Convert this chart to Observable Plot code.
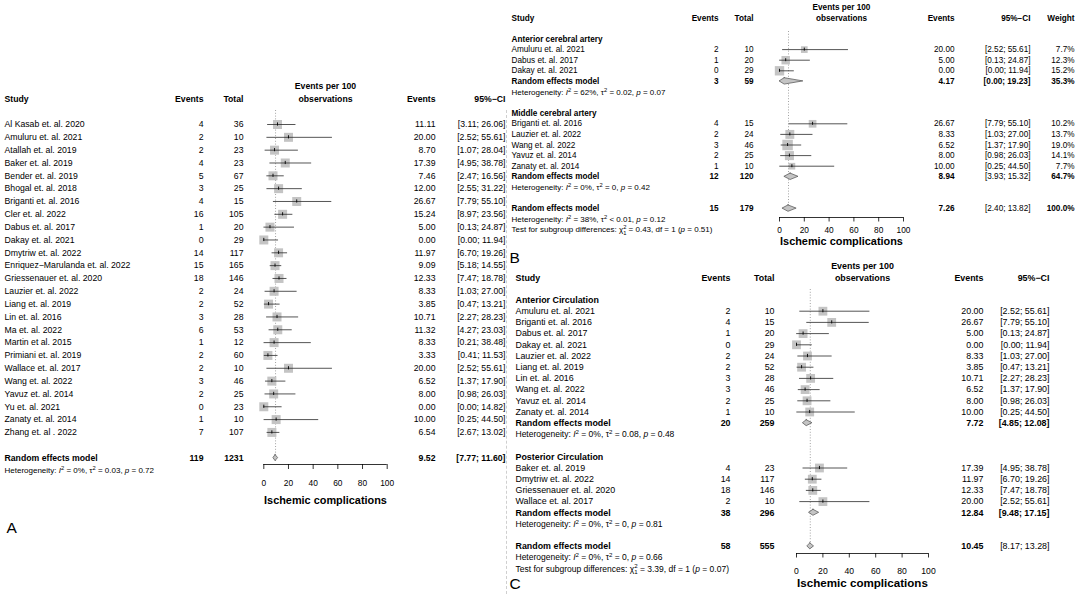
<!DOCTYPE html>
<html><head><meta charset="utf-8">
<script src="https://cdn.jsdelivr.net/npm/d3@7"></script>
<script src="https://cdn.jsdelivr.net/npm/@observablehq/plot@0.6"></script>
<style>
html,body{margin:0;padding:0;background:#fff;}
#wrap{position:relative;width:1080px;height:594px;overflow:hidden;background:#fff;}
#wrap svg{position:absolute;left:0;top:0;}
#sep{position:absolute;left:506px;top:110px;width:0;height:484px;border-left:1px dashed #cfcfcf;}
</style></head><body><div id="wrap"><div id="sep"></div></div>
<script>
// ---------------- DATA ----------------
const ticks = [0, 20, 40, 60, 80, 100];
const axisTitle = "Ischemic complications";
const forestHeader = ["Events per 100", "observations"];
const reLabel = "Random effects model";
const panelLabels = ["A", "B", "C"];

// Panel A
const headersA = ["Study", "Events", "Total", "Events", "95%−CI"];
const studiesA = ["Al Kasab et. al. 2020","Amuluru et. al. 2021","Atallah et. al. 2019","Baker et. al. 2019","Bender et. al. 2019","Bhogal et. al. 2018","Briganti et. al. 2016","Cler et. al. 2022","Dabus et. al. 2017","Dakay et. al. 2021","Dmytriw et. al. 2022","Enriquez−Marulanda et. al. 2022","Griessenauer et. al. 2020","Lauzier et. al. 2022","Liang et. al. 2019","Lin et. al. 2016","Ma et. al. 2022","Martin et al. 2015","Primiani et. al. 2019","Wallace et. al. 2017","Wang et. al. 2022","Yavuz et. al. 2014","Yu et. al. 2021","Zanaty et. al. 2014","Zhang et. al . 2022"];
const eventsA = [4,2,2,4,5,3,4,16,1,0,14,15,18,2,2,3,6,1,2,2,3,2,0,1,7];
const totalA = [36,10,23,23,67,25,15,105,20,29,117,165,146,24,52,28,53,12,60,10,46,25,23,10,107];
const estA = [11.11,20.00,8.70,17.39,7.46,12.00,26.67,15.24,5.00,0.00,11.97,9.09,12.33,8.33,3.85,10.71,11.32,8.33,3.33,20.00,6.52,8.00,0.00,10.00,6.54];
const lowA = [3.11,2.52,1.07,4.95,2.47,2.55,7.79,8.97,0.13,0.00,6.70,5.18,7.47,1.03,0.47,2.27,4.27,0.21,0.41,2.52,1.37,0.98,0.00,0.25,2.67];
const highA = [26.06,55.61,28.04,38.78,16.56,31.22,55.10,23.56,24.87,11.94,19.26,14.55,18.78,27.00,13.21,28.23,23.03,38.48,11.53,55.61,17.90,26.03,14.82,44.50,13.02];
const overallA = [119, 1231, 9.52, 7.77, 11.60]; // events, total, est, low, high
const hetA = "Heterogeneity: I² = 0%, τ² = 0.03, p = 0.72";

// Panel B
const headersB = ["Study", "Events", "Total", "Events", "95%−CI", "Weight"];
const subgroupsB = ["Anterior cerebral artery", "Middle cerebral artery"];
const groupB = [0,0,0,1,1,1,1,1];
const studiesB = ["Amuluru et. al. 2021","Dabus et. al. 2017","Dakay et. al. 2021","Briganti et. al. 2016","Lauzier et. al. 2022","Wang et. al. 2022","Yavuz et. al. 2014","Zanaty et. al. 2014"];
const eventsB = [2,1,0,4,2,3,2,1];
const totalB = [10,20,29,15,24,46,25,10];
const estB = [20.00,5.00,0.00,26.67,8.33,6.52,8.00,10.00];
const lowB = [2.52,0.13,0.00,7.79,1.03,1.37,0.98,0.25];
const highB = [55.61,24.87,11.94,55.10,27.00,17.90,26.03,44.50];
const weightB = [7.7,12.3,15.2,10.2,13.7,19.0,14.1,7.7];
const subEventsB = [3, 12];
const subTotalB = [59, 120];
const subEstB = [4.17, 8.94];
const subLowB = [0.00, 3.93];
const subHighB = [19.23, 15.32];
const subWeightB = [35.3, 64.7];
const subHetB = ["Heterogeneity: I² = 62%, τ² = 0.02, p = 0.07", "Heterogeneity: I² = 0%, τ² = 0, p = 0.42"];
const overallB = [15, 179, 7.26, 2.40, 13.82, 100.0];
const hetB = "Heterogeneity: I² = 38%, τ² < 0.01, p = 0.12";
const testB = "Test for subgroup differences: χ²₁ = 0.43, df = 1 (p = 0.51)";

// Panel C
const headersC = ["Study", "Events", "Total", "Events", "95%−CI"];
const subgroupsC = ["Anterior Circulation", "Posterior Circulation"];
const groupC = [0,0,0,0,0,0,0,0,0,0,1,1,1,1];
const studiesC = ["Amuluru et. al. 2021","Briganti et. al. 2016","Dabus et. al. 2017","Dakay et. al. 2021","Lauzier et. al. 2022","Liang et. al. 2019","Lin et. al. 2016","Wang et. al. 2022","Yavuz et. al. 2014","Zanaty et. al. 2014","Baker et. al. 2019","Dmytriw et. al. 2022","Griessenauer et. al. 2020","Wallace et. al. 2017"];
const eventsC = [2,4,1,0,2,2,3,3,2,1,4,14,18,2];
const totalC = [10,15,20,29,24,52,28,46,25,10,23,117,146,10];
const estC = [20.00,26.67,5.00,0.00,8.33,3.85,10.71,6.52,8.00,10.00,17.39,11.97,12.33,20.00];
const lowC = [2.52,7.79,0.13,0.00,1.03,0.47,2.27,1.37,0.98,0.25,4.95,6.70,7.47,2.52];
const highC = [55.61,55.10,24.87,11.94,27.00,13.21,28.23,17.90,26.03,44.50,38.78,19.26,18.78,55.61];
const subEventsC = [20, 38];
const subTotalC = [259, 296];
const subEstC = [7.72, 12.84];
const subLowC = [4.85, 9.48];
const subHighC = [12.08, 17.15];
const subHetC = ["Heterogeneity: I² = 0%, τ² = 0.08, p = 0.48", "Heterogeneity: I² = 0%, τ² = 0, p = 0.81"];
const overallC = [58, 555, 10.45, 8.17, 13.28];
const hetC = "Heterogeneity: I² = 0%, τ² = 0, p = 0.66";
const testC = "Test for subgroup differences: χ²₁ = 3.39, df = 1 (p = 0.07)";

// ---------------- ROW BUILDERS ----------------
function summaryRow(row, v, w) {
  return {kind: "re", row, label: reLabel, events: v[0], total: v[1], est: v[2], low: v[3], high: v[4], weight: w};
}
function buildA() {
  const rows = studiesA.map((n, i) => ({kind: "study", row: i, label: n, events: eventsA[i], total: totalA[i], est: estA[i], low: lowA[i], high: highA[i]}));
  rows.push(summaryRow(studiesA.length + 1, overallA));
  rows.push({kind: "het", row: studiesA.length + 2, label: hetA});
  return rows;
}
function buildGrouped(S) {
  const rows = []; let r = 0;
  S.subgroups.forEach((name, g) => {
    rows.push({kind: "title", row: r++, label: name});
    S.studies.forEach((n, i) => {
      if (S.group[i] !== g) return;
      rows.push({kind: "study", row: r++, label: n, events: S.events[i], total: S.total[i], est: S.est[i], low: S.low[i], high: S.high[i], weight: S.weight ? S.weight[i] : null});
    });
    rows.push(summaryRow(r++, [S.subEvents[g], S.subTotal[g], S.subEst[g], S.subLow[g], S.subHigh[g]], S.subWeight ? S.subWeight[g] : null));
    rows.push({kind: "het", row: r++, label: S.subHet[g]});
    r++;
  });
  rows.push(summaryRow(r++, S.overall, S.overall[5]));
  rows.push({kind: "het", row: r++, label: S.het});
  rows.push({kind: "het", row: r++, label: S.test});
  return rows;
}

const rowsA = buildA();
const rowsB = buildGrouped({subgroups: subgroupsB, group: groupB, studies: studiesB, events: eventsB, total: totalB, est: estB, low: lowB, high: highB, weight: weightB,
  subEvents: subEventsB, subTotal: subTotalB, subEst: subEstB, subLow: subLowB, subHigh: subHighB, subWeight: subWeightB, subHet: subHetB, overall: overallB, het: hetB, test: testB});
const rowsC = buildGrouped({subgroups: subgroupsC, group: groupC, studies: studiesC, events: eventsC, total: totalC, est: estC, low: lowC, high: highC,
  subEvents: subEventsC, subTotal: subTotalC, subEst: subEstC, subLow: subLowC, subHigh: subHighC, subHet: subHetC, overall: overallC, het: hetC, test: testC});

// ---------------- LAYOUT (pixels) ----------------
const FONT = "'Liberation Sans', Arial, Helvetica, sans-serif";
const LA = {y0: 124, dy: 12.83, x0: 263.3, x100: 386.7, cols: [4, 203, 243, 435, 505],
  fs: 8.7, fsHet: 8.0, fsTick: 8.4, fsTitle: 10.9, sq: 9, hdr: [86, 99], refTop: 110, refBottom: 461,
  axisLine: 464, tickLen: 5, tickLabel: 483, axisTitle: 500, dh: 3, tk: 1.6, letter: [6, 528], boldCI: [true]};
const LB = {y0: 38.5, dy: 10.6, x0: 779, x100: 903, cols: [511, 718, 753, 954, 1030, 1074],
  fs: 8.2, fsHet: 8.0, fsTick: 8.3, fsTitle: 10.9, wMax: 19, rMax: 10.5 / Math.sqrt(Math.PI), hdr: [6.7, 17.6], refTop: 31, refBottom: 211,
  axisLine: 217, tickLen: 4.5, tickLabel: 230, axisTitle: 241, dh: 3.2, tk: 1.5, letter: [509, 258], boldCI: [true, false, false]};
const LC = {y0: 299.5, dy: 11.2, x0: 796, x100: 928, cols: [515, 730, 774, 983, 1049],
  fs: 8.9, fsHet: 8.5, fsTick: 8.6, fsTitle: 11.6, sq: 8.8, hdr: [266, 278], refTop: 289, refBottom: 549,
  axisLine: 553, tickLen: 4.5, tickLabel: 571, axisTitle: 583, dh: 3, tk: 1.6, letter: [509, 584], boldCI: [true, true, false]};

// ---------------- DRAW ----------------
function ciText(d) { return "[" + d.low.toFixed(2) + "; " + d.high.toFixed(2) + "]"; }

function drawPanel(rows, L, headers, label) {
  const r = p => (p - L.y0) / L.dy;
  const studies = rows.filter(d => d.kind === "study");
  const res = rows.filter(d => d.kind === "re");
  const titles = rows.filter(d => d.kind === "title");
  const notes = rows.filter(d => d.kind === "het");
  const overall = res[res.length - 1];
  const h = L.dh / L.dy, tk = L.tk / L.dy;
  const diamonds = res.flatMap((d, i) => [
    {id: i, y: d.row - h, x1: d.est, x2: d.est},
    {id: i, y: d.row, x1: d.low, x2: d.high},
    {id: i, y: d.row + h, x1: d.est, x2: d.est}
  ]);
  const mid = (ticks[0] + ticks[ticks.length - 1]) / 2;
  const t = {y: "row", frameAnchor: "left", fontSize: L.fs, fill: "#000"};
  const C = L.cols;
  const marks = [
    Plot.ruleX([overall], {x: "est", y1: () => r(L.refTop), y2: () => r(L.refBottom), stroke: "#8c8c8c", strokeWidth: 0.8, strokeDasharray: "1,1.8"}),
    Plot.dot(studies, {x: "est", y: "row", symbol: "square", r: L.wMax ? "weight" : L.sq / Math.sqrt(Math.PI), fill: "#c4c4c4", stroke: "none"}),
    Plot.ruleY(studies, {y: "row", x1: "low", x2: "high", stroke: "#2a2a2a", strokeWidth: 0.8}),
    Plot.ruleX(studies, {x: "est", y1: d => d.row - tk, y2: d => d.row + tk, stroke: "#000", strokeWidth: 0.9}),
    Plot.areaX(diamonds, {y: "y", x1: "x1", x2: "x2", z: "id", fill: "#c4c4c4", stroke: "#4d4d4d", strokeWidth: 0.7}),
    Plot.ruleY([ticks], {y: () => r(L.axisLine), x1: d => d[0], x2: d => d[d.length - 1], stroke: "#000", strokeWidth: 0.8}),
    Plot.ruleX(ticks, {x: d => d, y1: () => r(L.axisLine), y2: () => r(L.axisLine + L.tickLen), stroke: "#000", strokeWidth: 0.8}),
    Plot.text(ticks, {x: d => d, y: () => r(L.tickLabel), text: d => String(d), fontSize: L.fsTick, fill: "#000"}),
    Plot.text([axisTitle], {x: () => mid, y: () => r(L.axisTitle), text: d => d, fontSize: L.fsTitle, fontWeight: "bold", fill: "#000"}),
    Plot.text(forestHeader, {x: () => mid, y: (d, i) => r(L.hdr[i]), text: d => d, fontSize: L.fs, fontWeight: "bold", fill: "#000"}),
    Plot.text(studies, {...t, text: "label", dx: C[0], textAnchor: "start"}),
    Plot.text(titles.concat(res), {...t, text: "label", dx: C[0], textAnchor: "start", fontWeight: "bold"}),
    Plot.text(notes, {...t, fontSize: L.fsHet, text: "label", dx: C[0], textAnchor: "start"}),
    Plot.text(studies, {...t, dx: C[4], textAnchor: "end", text: ciText}),
    Plot.text(res.filter((d, i) => L.boldCI[i]), {...t, dx: C[4], textAnchor: "end", fontWeight: "bold", text: ciText}),
    Plot.text(res.filter((d, i) => !L.boldCI[i]), {...t, dx: C[4], textAnchor: "end", text: ciText}),
    Plot.text([label], {frameAnchor: "left", dx: L.letter[0], y: () => r(L.letter[1]), text: d => d, fontSize: 15.5, fill: "#000", textAnchor: "start"})
  ];
  headers.forEach((hd, i) => marks.push(Plot.text([hd], {frameAnchor: "left", y: () => r(L.hdr[1]), dx: C[i], textAnchor: i ? "end" : "start", text: d => d, fontSize: L.fs, fontWeight: "bold", fill: "#000"})));
  for (const [data, fw] of [[studies, "normal"], [res, "bold"]]) {
    marks.push(Plot.text(data, {...t, dx: C[1], textAnchor: "end", fontWeight: fw, text: d => String(d.events)}));
    marks.push(Plot.text(data, {...t, dx: C[2], textAnchor: "end", fontWeight: fw, text: d => String(d.total)}));
    marks.push(Plot.text(data, {...t, dx: C[3], textAnchor: "end", fontWeight: fw, text: d => d.est.toFixed(2)}));
    if (C[5]) marks.push(Plot.text(data, {...t, dx: C[5], textAnchor: "end", fontWeight: fw, text: d => d.weight.toFixed(1) + "%"}));
  }
  const opts = {
    width: 1080, height: 594, margin: 0,
    x: {domain: [ticks[0], ticks[ticks.length - 1]], range: [L.x0, L.x100], axis: null},
    y: {domain: [0, 1], range: [L.y0, L.y0 + L.dy], axis: null},
    style: {fontFamily: FONT, background: "transparent", overflow: "visible"},
    marks
  };
  if (L.wMax) opts.r = {type: "sqrt", domain: [0, L.wMax], range: [0, L.rMax]};
  return Plot.plot(opts);
}

function richify(svg) {
  const NS = "http://www.w3.org/2000/svg";
  svg.querySelectorAll("text").forEach(t => {
    const s = t.textContent;
    if (!/^(Heterogeneity|Test for)/.test(s)) return;
    const fs = parseFloat(getComputedStyle(t).fontSize) || 8;
    const up = fs * 0.38, small = fs * 0.72;
    const tokens = s.split(/(I²|τ²|χ²₁|\bp\b)/);
    while (t.firstChild) t.removeChild(t.firstChild);
    let shift = 0;
    const add = (str, attrs = {}) => {
      const ts = document.createElementNS(NS, "tspan");
      for (const k in attrs) ts.setAttribute(k, attrs[k]);
      if (shift && attrs.dy === undefined) { ts.setAttribute("dy", shift); shift = 0; }
      ts.textContent = str; t.appendChild(ts);
    };
    for (const tok of tokens) {
      if (!tok) continue;
      if (tok === "I²") { add("I", {"font-style": "italic"}); add("2", {dy: -up, "font-size": small}); shift = up; }
      else if (tok === "τ²") { add("τ"); add("2", {dy: -up, "font-size": small}); shift = up; }
      else if (tok === "χ²₁") { add("χ"); add("2", {dy: -up, "font-size": small}); add("1", {dx: -small * 0.56, dy: up * 1.9, "font-size": small}); shift = -up * 0.9; }
      else if (tok === "p") add("p", {"font-style": "italic"});
      else add(tok);
    }
  });
}

const wrap = document.getElementById("wrap");
[[rowsA, LA, headersA], [rowsB, LB, headersB], [rowsC, LC, headersC]].forEach(([rows, L, hd], i) => {
  const svg = drawPanel(rows, L, hd, panelLabels[i]);
  wrap.appendChild(svg);
  richify(svg);
});
</script></body></html>
